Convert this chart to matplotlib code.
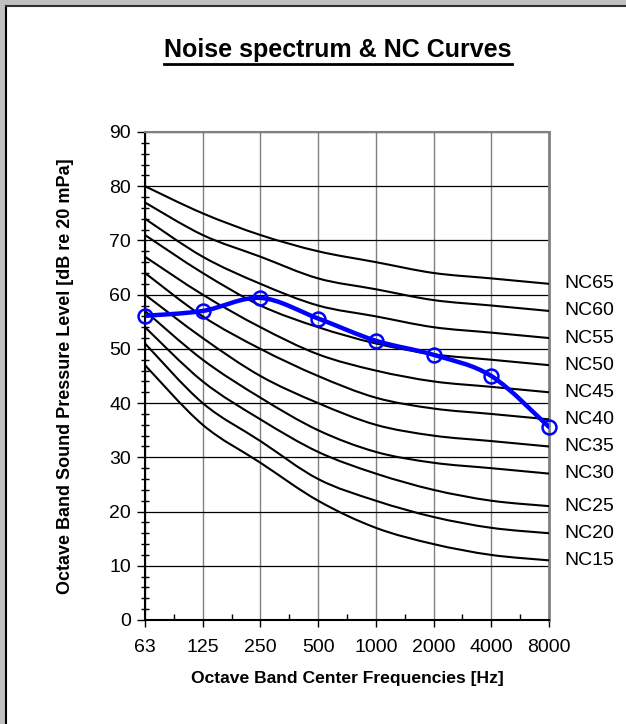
import numpy as np
import matplotlib
matplotlib.use('Agg')
from matplotlib import pyplot as plt
from matplotlib.path import Path
from matplotlib.patches import PathPatch, Rectangle
from matplotlib.lines import Line2D

plt.rcParams['font.family'] = ['Liberation Sans', 'DejaVu Sans']

FREQS = ['63', '125', '250', '500', '1000', '2000', '4000', '8000']

NC_NAMES = ['NC15', 'NC20', 'NC25', 'NC30', 'NC35', 'NC40',
            'NC45', 'NC50', 'NC55', 'NC60', 'NC65']
NC15 = [47, 36, 29, 22, 17, 14, 12, 11]
NC20 = [51, 40, 33, 26, 22, 19, 17, 16]
NC25 = [54, 44, 37, 31, 27, 24, 22, 21]
NC30 = [57, 48, 41, 35, 31, 29, 28, 27]
NC35 = [60, 52, 45, 40, 36, 34, 33, 32]
NC40 = [64, 56, 50, 45, 41, 39, 38, 37]
NC45 = [67, 60, 54, 49, 46, 44, 43, 42]
NC50 = [71, 64, 58, 54, 51, 49, 48, 47]
NC55 = [74, 67, 62, 58, 56, 54, 53, 52]
NC60 = [77, 71, 67, 63, 61, 59, 58, 57]
NC65 = [80, 75, 71, 68, 66, 64, 63, 62]
NC_CURVES = [NC15, NC20, NC25, NC30, NC35, NC40, NC45, NC50, NC55, NC60, NC65]

SPECTRUM = [56.1, 57.0, 59.4, 55.6, 51.5, 48.9, 45.0, 35.6]


def smooth_path(xs, ys):
    # excel-like smoothed line: catmull-rom segments as cubic beziers
    pts = np.column_stack([xs, ys]).astype(float)
    verts = [pts[0]]
    codes = [Path.MOVETO]
    n = len(pts)
    for i in range(n - 1):
        p0 = pts[i - 1] if i > 0 else pts[i]
        p1 = pts[i]
        p2 = pts[i + 1]
        p3 = pts[i + 2] if i + 2 < n else pts[i + 1]
        c1 = p1 + (p2 - p0) / 6.0
        c2 = p2 - (p3 - p1) / 6.0
        verts += [c1, c2, p2]
        codes += [Path.CURVE4] * 3
    return Path(verts, codes)


fig = plt.figure(figsize=(6.26, 7.24), dpi=100)

# grey window frame on top and left
fig.patches.append(Rectangle((0, 0), 5 / 626, 1, transform=fig.transFigure,
                             facecolor='#c0c0c0', edgecolor='none', zorder=0))
fig.patches.append(Rectangle((0, 1 - 5 / 724), 1, 5 / 724, transform=fig.transFigure,
                             facecolor='#c0c0c0', edgecolor='none', zorder=0))
fig.lines.append(Line2D([5.5 / 626, 5.5 / 626], [0, 1 - 5.5 / 724], transform=fig.transFigure,
                        color='black', lw=1.5))
fig.lines.append(Line2D([5.5 / 626, 1], [1 - 5.5 / 724, 1 - 5.5 / 724], transform=fig.transFigure,
                        color='#303030', lw=1.5))

ax = fig.add_axes([145 / 626, 1 - 620 / 724, 404 / 626, 488 / 724])
x = np.arange(len(FREQS))

ax.set_xlim(0, len(FREQS) - 1)
ax.set_ylim(0, 90)

for curve in NC_CURVES:
    ax.add_patch(PathPatch(smooth_path(x, curve), facecolor='none',
                           edgecolor='black', lw=1.5, zorder=3))

for name, curve in zip(NC_NAMES, NC_CURVES):
    ax.text(len(FREQS) - 1 + 0.27, curve[-1], name, fontsize=14,
            va='center', ha='left', clip_on=False)

ax.add_patch(PathPatch(smooth_path(x, SPECTRUM), facecolor='none',
                       edgecolor='#0000ff', lw=3.2, zorder=4,
                       capstyle='round', joinstyle='round'))
ax.plot(x, SPECTRUM, linestyle='none', marker='o', markersize=10,
        markerfacecolor='none', markeredgecolor='#0000ff', markeredgewidth=1.8,
        zorder=5, clip_on=False)

ax.set_yticks(np.arange(0, 91, 10))
ax.set_yticks(np.arange(0, 91, 2), minor=True)
ax.set_xticks(x)
ax.set_xticklabels(FREQS)
ax.set_xticks(x[:-1] + 0.5, minor=True)

ax.grid(True, axis='y', which='major', color='black', lw=0.9)
ax.grid(True, axis='x', which='major', color='#808080', lw=1.0)
ax.set_axisbelow(True)

ax.tick_params(axis='y', which='major', direction='out', length=6, width=1,
               labelsize=14, pad=4)
ax.tick_params(axis='y', which='minor', direction='inout', length=6, width=1)
ax.tick_params(axis='x', which='major', direction='out', length=5, width=1,
               labelsize=14, pad=9)
ax.tick_params(axis='x', which='minor', direction='in', length=4, width=1)

for side in ['left', 'bottom']:
    ax.spines[side].set_color('black')
    ax.spines[side].set_linewidth(1.5)
ax.spines['top'].set_color('#808080')
ax.spines['top'].set_linewidth(1.5)
ax.spines['right'].set_color('#808080')
ax.spines['right'].set_linewidth(2)

ax.set_ylabel('Octave Band Sound Pressure Level [dB re 20 mPa]',
              fontsize=13, fontweight='bold', va='center')
ax.yaxis.set_label_coords((66 - 145) / 404, 0.5)
ax.set_xlabel('Octave Band Center Frequencies [Hz]',
              fontsize=12.6, fontweight='bold', va='center')
ax.xaxis.set_label_coords(0.5, (620 - 678) / 488)

title = fig.text(338 / 626, 1 - 50 / 724, 'Noise spectrum & NC Curves',
                 fontsize=18, fontweight='bold', ha='center', va='center')

# underline the title
fig.canvas.draw()
bb = title.get_window_extent().transformed(fig.transFigure.inverted())
fig.lines.append(Line2D([bb.x0, bb.x1], [bb.y0 - 2 / 724, bb.y0 - 2 / 724],
                        transform=fig.transFigure, color='black', lw=2))

fig.savefig('out.png', dpi=100)
